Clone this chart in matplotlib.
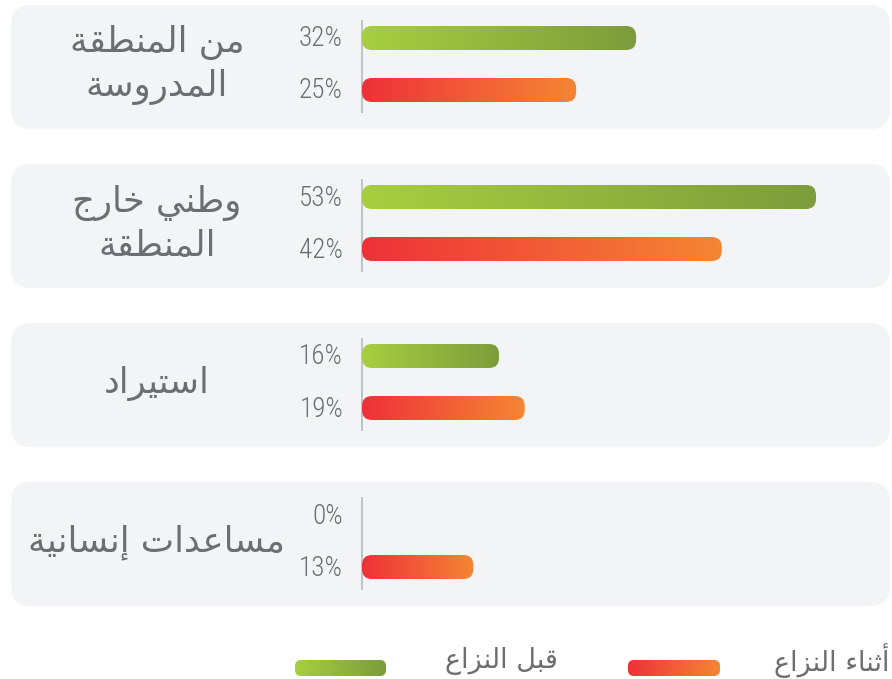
import numpy as np
import matplotlib
matplotlib.use("Agg")
import matplotlib.pyplot as plt
from matplotlib.patches import FancyBboxPatch
from matplotlib.colors import LinearSegmentedColormap

# ---------------- data ----------------
categories = ["من المنطقة\nالمدروسة", "وطني خارج\nالمنطقة", "استيراد", "مساعدات إنسانية"]
before_conflict = [32, 53, 16, 0]
during_conflict = [25, 42, 19, 13]
series_names = ["قبل النزاع", "أثناء النزاع"]

# ---------------- minimal Arabic shaping ----------------
# letter: (isolated, final, initial, medial)
FORMS = {
    'ء': (0xFE80, None, None, None),
    'آ': (0xFE81, 0xFE82, None, None),
    'أ': (0xFE83, 0xFE84, None, None),
    'ؤ': (0xFE85, 0xFE86, None, None),
    'إ': (0xFE87, 0xFE88, None, None),
    'ئ': (0xFE89, 0xFE8A, 0xFE8B, 0xFE8C),
    'ا': (0xFE8D, 0xFE8E, None, None),
    'ب': (0xFE8F, 0xFE90, 0xFE91, 0xFE92),
    'ة': (0xFE93, 0xFE94, None, None),
    'ت': (0xFE95, 0xFE96, 0xFE97, 0xFE98),
    'ث': (0xFE99, 0xFE9A, 0xFE9B, 0xFE9C),
    'ج': (0xFE9D, 0xFE9E, 0xFE9F, 0xFEA0),
    'ح': (0xFEA1, 0xFEA2, 0xFEA3, 0xFEA4),
    'خ': (0xFEA5, 0xFEA6, 0xFEA7, 0xFEA8),
    'د': (0xFEA9, 0xFEAA, None, None),
    'ذ': (0xFEAB, 0xFEAC, None, None),
    'ر': (0xFEAD, 0xFEAE, None, None),
    'ز': (0xFEAF, 0xFEB0, None, None),
    'س': (0xFEB1, 0xFEB2, 0xFEB3, 0xFEB4),
    'ش': (0xFEB5, 0xFEB6, 0xFEB7, 0xFEB8),
    'ص': (0xFEB9, 0xFEBA, 0xFEBB, 0xFEBC),
    'ض': (0xFEBD, 0xFEBE, 0xFEBF, 0xFEC0),
    'ط': (0xFEC1, 0xFEC2, 0xFEC3, 0xFEC4),
    'ظ': (0xFEC5, 0xFEC6, 0xFEC7, 0xFEC8),
    'ع': (0xFEC9, 0xFECA, 0xFECB, 0xFECC),
    'غ': (0xFECD, 0xFECE, 0xFECF, 0xFED0),
    'ف': (0xFED1, 0xFED2, 0xFED3, 0xFED4),
    'ق': (0xFED5, 0xFED6, 0xFED7, 0xFED8),
    'ك': (0xFED9, 0xFEDA, 0xFEDB, 0xFEDC),
    'ل': (0xFEDD, 0xFEDE, 0xFEDF, 0xFEE0),
    'م': (0xFEE1, 0xFEE2, 0xFEE3, 0xFEE4),
    'ن': (0xFEE5, 0xFEE6, 0xFEE7, 0xFEE8),
    'ه': (0xFEE9, 0xFEEA, 0xFEEB, 0xFEEC),
    'و': (0xFEED, 0xFEEE, None, None),
    'ى': (0xFEEF, 0xFEF0, None, None),
    'ي': (0xFEF1, 0xFEF2, 0xFEF3, 0xFEF4),
}
LAM_ALEF = {'آ': (0xFEF5, 0xFEF6), 'أ': (0xFEF7, 0xFEF8),
            'إ': (0xFEF9, 0xFEFA), 'ا': (0xFEFB, 0xFEFC)}


def jtype(c):
    f = FORMS.get(c)
    if f is None:
        return 'U'
    if f[1] is None:
        return 'U'
    if f[2] is None:
        return 'R'
    return 'D'


def shape_line(s):
    out = []
    i = 0
    n = len(s)
    while i < n:
        c = s[i]
        prev = s[i - 1] if i > 0 else ''
        join_prev = jtype(c) in ('D', 'R') and prev and jtype(prev) == 'D'
        if c == 'ل' and i + 1 < n and s[i + 1] in LAM_ALEF:
            iso, fin = LAM_ALEF[s[i + 1]]
            out.append(chr(fin if join_prev else iso))
            i += 2
            continue
        nxt = s[i + 1] if i + 1 < n else ''
        join_next = jtype(c) == 'D' and nxt and jtype(nxt) in ('D', 'R')
        f = FORMS.get(c)
        if f is None:
            out.append(c)
        else:
            if join_prev and join_next:
                g = f[3]
            elif join_prev:
                g = f[1]
            elif join_next:
                g = f[2]
            else:
                g = f[0]
            out.append(chr(g))
        i += 1
    return ''.join(reversed(out))


def ar(s):
    return '\n'.join(shape_line(line) for line in s.split('\n'))


# ---------------- layout ----------------
W, H = 892, 679
PPX = (816 - 362) / 53.0      # pixels per percent
ROW = 159.0                   # pixels per category row
X0 = 362.0                    # pixel of 0 %
Y0 = 67.0                     # pixel centre of first row

fig = plt.figure(figsize=(W / 100, H / 100), dpi=100)
fig.patch.set_facecolor('white')
ax = fig.add_axes([0, 0, 1, 1])
ax.set_xlim(-X0 / PPX, (W - X0) / PPX)
ax.set_ylim((H - Y0) / ROW, -Y0 / ROW)
ax.axis('off')

ASPECT = PPX / ROW            # data-y per data-x for equal pixel sizes

def px_x(p):
    return p / PPX

def px_y(p):
    return p / ROW

panel_color = '#f3f4f6'
text_color = '#6d6e71'
pct_color = '#6d6e71'
axis_color = '#bcbec0'

green_cmap = LinearSegmentedColormap.from_list('g', ['#a7cf40', '#7d9c3c'])
red_cmap = LinearSegmentedColormap.from_list('r', ['#ee3139', '#f58634'])

grad = np.linspace(0, 1, 256).reshape(1, -1)

ar_font = ['DejaVu Sans']
num_font = ['Roboto Condensed', 'Liberation Sans Narrow', 'Roboto', 'DejaVu Sans']


def rounded(x, y, w, h, r_px, **kw):
    return FancyBboxPatch((x, y), w, h,
                          boxstyle=f"round,pad=0,rounding_size={px_x(r_px)}",
                          mutation_aspect=ASPECT, **kw)


def grad_bar(x0, x1, yc, h_px, cmap, z=3):
    h = px_y(h_px)
    patch = rounded(x0, yc - h / 2, x1 - x0, h, h_px / 2 - 2,
                    facecolor='none', edgecolor='none', transform=ax.transData)
    ax.add_patch(patch)
    im = ax.imshow(grad, cmap=cmap, aspect='auto',
                   extent=(x0, x1, yc + h / 2, yc - h / 2),
                   interpolation='bilinear', zorder=z)
    im.set_clip_path(patch)


for i, cat in enumerate(categories):
    yc = i
    # panel
    pl = px_x(11 - X0)
    pr = px_x(890 - X0)
    ph = px_y(124)
    ax.add_patch(rounded(pl, yc - ph / 2, pr - pl, ph, 20,
                         facecolor=panel_color, edgecolor='none', zorder=1))
    # axis line
    ax.plot([0, 0], [yc - px_y(47), yc + px_y(46)], color=axis_color,
            lw=1.3, zorder=2, solid_capstyle='butt')
    # category label
    ax.text(px_x(157 - X0), yc - px_y(2), ar(cat), ha='center', va='center',
            multialignment='center', fontsize=25.5, color=text_color,
            family=ar_font, linespacing=1.32, zorder=4)
    # bars
    for val, off, cmap in ((before_conflict[i], -29, green_cmap),
                           (during_conflict[i], 23, red_cmap)):
        yb = yc + px_y(off)
        if val > 0:
            grad_bar(0, val, yb, 24, cmap)
        ax.text(px_x(343 - X0), yb + px_y(1), f"{val}%", ha='right', va='center',
                fontsize=19.5, color=pct_color, family=num_font,
                fontweight='light', fontstretch='condensed', zorder=4)

# legend
yl = px_y(668 - Y0)
grad_bar(px_x(295 - X0), px_x(386 - X0), yl, 16, green_cmap)
grad_bar(px_x(628 - X0), px_x(720 - X0), yl, 16, red_cmap)
ax.text(px_x(501 - X0), px_y(661 - Y0), ar(series_names[0]), ha='center',
        va='center', fontsize=19.5, color=text_color, family=ar_font)
ax.text(px_x(889 - X0), px_y(661 - Y0), ar(series_names[1]), ha='right',
        va='center', fontsize=19.5, color=text_color, family=ar_font)

ax.set_xlim(-X0 / PPX, (W - X0) / PPX)
ax.set_ylim((H - Y0) / ROW, -Y0 / ROW)

fig.savefig('out.png', dpi=100, facecolor='white')
